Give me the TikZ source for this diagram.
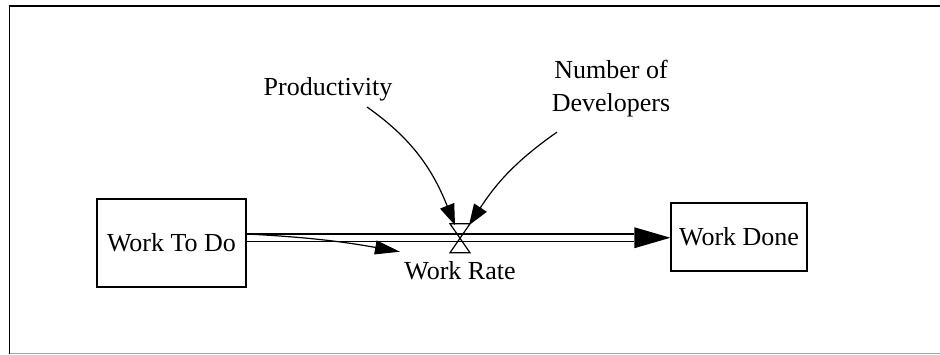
\documentclass[tikz,border=0pt]{standalone}
\usepackage{fontspec}
\setmainfont{Liberation Serif}
\usetikzlibrary{arrows.meta,calc}
\begin{document}
\begin{tikzpicture}[x=1pt,y=1pt,
  stock/.style={draw, line width=1.3pt, minimum width=149pt, minimum height=88pt, inner sep=0pt, font=\fontsize{26}{30}\selectfont},
  lbl/.style={font=\fontsize{26}{33}\selectfont, inner sep=0pt, align=center},
  infl/.style={line width=1.2pt, -{Triangle[length=21pt,width=15pt]}},
  pipe/.style={line width=1.3pt},
]
\useasboundingbox (0,0) rectangle (940,355);
\draw[line width=1.4pt] (940,349) -- (9.5,349) -- (9.5,1);
\draw[gray!70, line width=1pt] (9.5,1.5) -- (940,1.5);

\node[stock] (wtd) at (171.5,112) {Work To Do};
\node[stock, minimum width=136pt, minimum height=68pt] (wd) at (739,118) {Work Done};
\coordinate (valve) at (460,117.25);
\node[lbl] (wr) at (460,84) {Work Rate};
\node[lbl] (prod) at (328,266) {Productivity};
\node[lbl] (ndev) at (611,266.5) {Number of\\Developers};

% pipe
\draw[pipe] ($(wtd.east |- valve)+(0,3.75)$) -- ($(wd.west |- valve)+(-36,3.75)$);
\draw[pipe] ($(wtd.east |- valve)+(0,-3.75)$) -- ($(wd.west |- valve)+(-36,-3.75)$);
\fill ($(wd.west |- valve)$) -- ++(-36,10.5) -- ++(0,-21) -- cycle;

% valve
\draw[line width=1.2pt] ($(valve)+(-10,14)$) -- ($(valve)+(10,14)$) -- ($(valve)+(-10,-15)$) -- ($(valve)+(10,-15)$) -- cycle;

% stray link
\draw[line width=1.2pt, -{Triangle[length=25pt,width=14pt]}] ($(wtd.east |- valve)+(0,3.75)$) to[out=-3, in=170] ($(valve)+(-60,-14)$);

% influences
\draw[infl] ($(prod.south)+(39,-6)$) to[out=-35, in=112] ($(valve)+(-5,12.5)$);
\draw[infl] ($(ndev.south)+(-54,-15)$) to[out=-145, in=57] ($(valve)+(9,12.5)$);
\end{tikzpicture}
\end{document}
